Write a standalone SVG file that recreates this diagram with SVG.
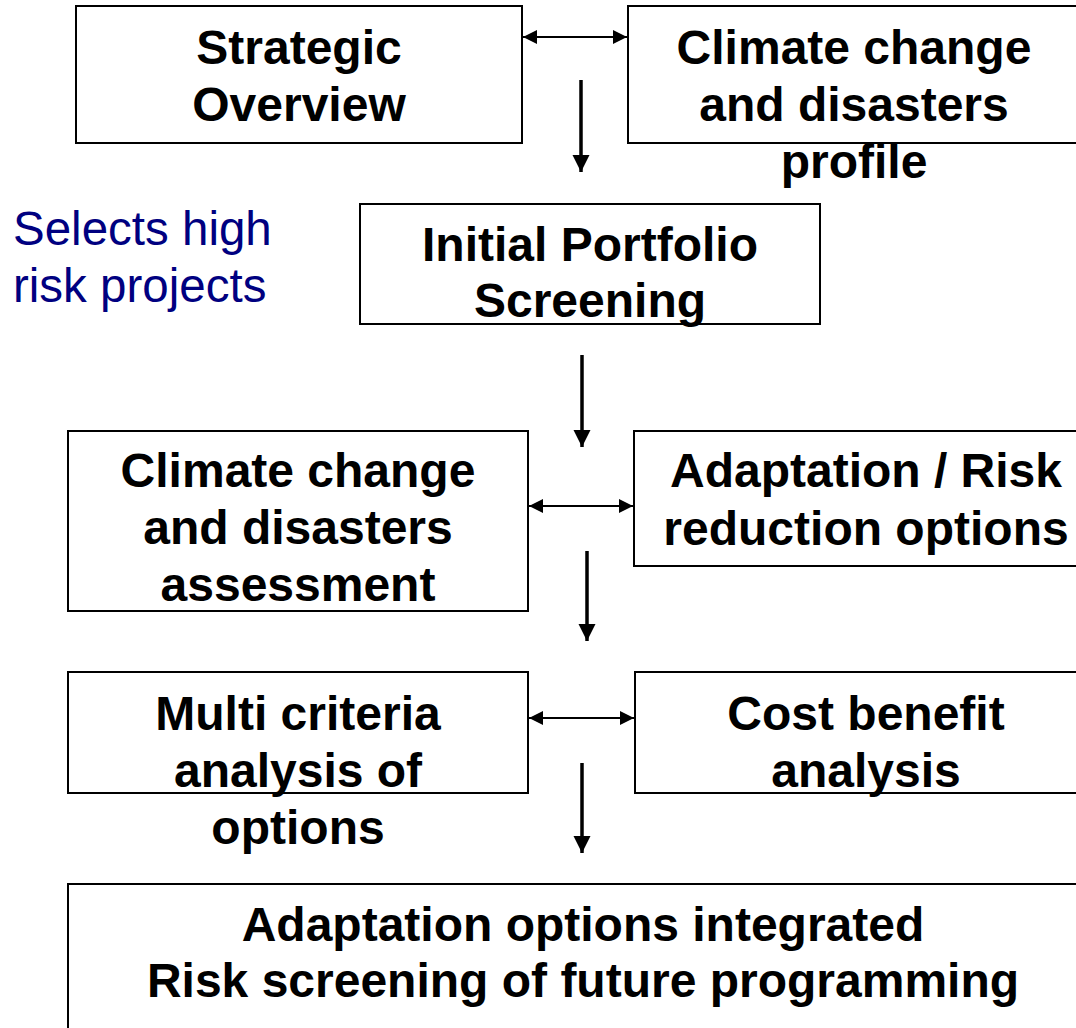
<svg xmlns="http://www.w3.org/2000/svg" width="1076" height="1028" viewBox="0 0 1076 1028">
  <style>
    .box { fill: #ffffff; stroke: #000000; stroke-width: 2; }
    .lbl { font-family: "Liberation Sans", Arial, sans-serif; font-weight: bold; font-size: 48px; fill: #000000; text-anchor: middle; }
    .note { font-family: "Liberation Sans", Arial, sans-serif; font-size: 47.5px; fill: #000080; }
    .link { stroke: #000000; stroke-width: 2; fill: none; }
    .flow { stroke: #000000; stroke-width: 3.5; fill: none; }
  </style>
  <defs>
    <marker id="headEnd" markerUnits="userSpaceOnUse" markerWidth="16" markerHeight="16" refX="14" refY="7" orient="auto">
      <polygon points="0,0 14,7 0,14" fill="#000000"/>
    </marker>
    <marker id="headStart" markerUnits="userSpaceOnUse" markerWidth="16" markerHeight="16" refX="0" refY="7" orient="auto">
      <polygon points="14,0 0,7 14,14" fill="#000000"/>
    </marker>
    <marker id="flowHead" markerUnits="userSpaceOnUse" markerWidth="20" markerHeight="20" refX="17" refY="8.5" orient="auto">
      <polygon points="0,0 17,8.5 0,17" fill="#000000"/>
    </marker>
  </defs>

  <rect width="1076" height="1028" fill="#ffffff"/>

  <g id="strategic-overview">
    <rect class="box" x="76" y="6" width="446" height="137"/>
    <text class="lbl" x="299" y="64">Strategic</text>
    <text class="lbl" x="299" y="121">Overview</text>
  </g>

  <g id="climate-profile">
    <rect class="box" x="628" y="6" width="470" height="137"/>
    <text class="lbl" x="854" y="64">Climate change</text>
    <text class="lbl" x="854" y="121">and disasters</text>
    <text class="lbl" x="854" y="178">profile</text>
  </g>

  <g id="selects-note">
    <text class="note" x="13" y="245">Selects high</text>
    <text class="note" x="13" y="302">risk projects</text>
  </g>

  <g id="portfolio-screening">
    <rect class="box" x="360" y="204" width="460" height="120"/>
    <text class="lbl" x="590" y="261">Initial Portfolio</text>
    <text class="lbl" x="590" y="317">Screening</text>
  </g>

  <g id="climate-assessment">
    <rect class="box" x="68" y="431" width="460" height="180"/>
    <text class="lbl" x="298" y="487">Climate change</text>
    <text class="lbl" x="298" y="544">and disasters</text>
    <text class="lbl" x="298" y="601">assessment</text>
  </g>

  <g id="risk-reduction-options">
    <rect class="box" x="634" y="431" width="464" height="135"/>
    <text class="lbl" x="866" y="487">Adaptation / Risk</text>
    <text class="lbl" x="866" y="545">reduction options</text>
  </g>

  <g id="multi-criteria">
    <rect class="box" x="68" y="672" width="460" height="121"/>
    <text class="lbl" x="298" y="730">Multi criteria</text>
    <text class="lbl" x="298" y="787">analysis of</text>
    <text class="lbl" x="298" y="844">options</text>
  </g>

  <g id="cost-benefit">
    <rect class="box" x="635" y="672" width="463" height="121"/>
    <text class="lbl" x="866" y="730">Cost benefit</text>
    <text class="lbl" x="866" y="787">analysis</text>
  </g>

  <g id="integration">
    <rect class="box" x="68" y="884" width="1030" height="160"/>
    <text class="lbl" x="583" y="941">Adaptation options integrated</text>
    <text class="lbl" x="583" y="997">Risk screening of future programming</text>
  </g>

  <g id="connectors">
    <line class="link" x1="523" y1="37" x2="627" y2="37" marker-start="url(#headStart)" marker-end="url(#headEnd)"/>
    <line class="link" x1="529" y1="506" x2="633" y2="506" marker-start="url(#headStart)" marker-end="url(#headEnd)"/>
    <line class="link" x1="529" y1="718" x2="634" y2="718" marker-start="url(#headStart)" marker-end="url(#headEnd)"/>
    <line class="flow" x1="581" y1="80" x2="581" y2="172" marker-end="url(#flowHead)"/>
    <line class="flow" x1="582" y1="355" x2="582" y2="447" marker-end="url(#flowHead)"/>
    <line class="flow" x1="587" y1="551" x2="587" y2="641" marker-end="url(#flowHead)"/>
    <line class="flow" x1="582" y1="763" x2="582" y2="853" marker-end="url(#flowHead)"/>
  </g>
</svg>
